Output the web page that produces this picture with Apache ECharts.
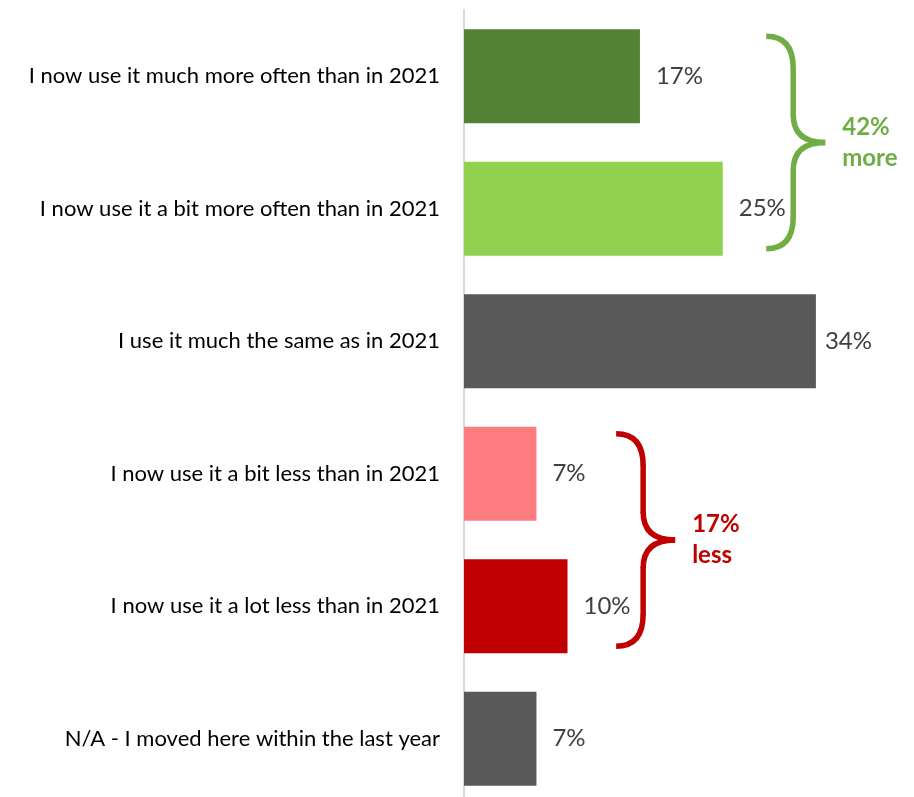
<!DOCTYPE html>
<html>
<head>
<meta charset="utf-8">
<script src="https://cdn.jsdelivr.net/npm/echarts@6/dist/echarts.min.js"></script>
<style>
  html, body { margin: 0; padding: 0; background: #fff; overflow: hidden; }
  #chart { width: 914px; height: 815px; }
</style>
</head>
<body>
<div id="chart"></div>
<script>
// Survey answers, top to bottom
const categories = [
  'I now use it much more often than in 2021',
  'I now use it a bit more often than in 2021',
  'I use it much the same as in 2021',
  'I now use it a bit less than in 2021',
  'I now use it a lot less than in 2021',
  'N/A - I moved here within the last year'
];
const shares = [17, 25, 34, 7, 10, 7];
const barColors = ['#548235', '#92d050', '#595959', '#ff7c80', '#c00000', '#595959'];

// Grouped totals shown beside the braces
const moreLabel = ['42%', 'more'];
const lessLabel = ['17%', 'less'];

const FONT = 'Lato, "Open Sans", sans-serif';

const chart = echarts.init(document.getElementById('chart'), null, { renderer: 'canvas' });

// The longest bar keeps its label tucked in closer
const labelGap = (i) => (i === 2 ? 9 : 16);

// The plot runs slightly past the bottom edge of the window, so the last
// band's lower margin is cut off.
const option = {
  animation: false,
  backgroundColor: '#ffffff',
  grid: { left: 464, top: 10, right: 36, bottom: 10, containLabel: false },
  xAxis: {
    type: 'value', min: 0, max: 40,
    show: false
  },
  yAxis: {
    type: 'category',
    data: categories,
    inverse: true,
    axisLine: { show: true, lineStyle: { color: '#d9d9d9', width: 2 } },
    axisTick: { show: false },
    axisLabel: {
      margin: 24, fontSize: 22, color: '#000000', fontFamily: FONT
    }
  },
  series: [{
    type: 'bar',
    data: shares.map((v, i) => ({
      value: v,
      itemStyle: { color: barColors[i] },
      label: { distance: labelGap(i) }
    })),
    barCategoryGap: '29%',
    label: {
      show: true, position: 'right',
      formatter: '{c}%', fontSize: 24, color: '#404040', fontFamily: FONT
    }
  }]
};
chart.setOption(option);

// Curly brace spanning two categories, placed through the axis scales
function brace(catA, catB, xValue, color, lines) {
  const half = 47; // half a bar's thickness in px
  const pA = chart.convertToPixel({ gridIndex: 0 }, [xValue, catA]);
  const pB = chart.convertToPixel({ gridIndex: 0 }, [xValue, catB]);
  const x0 = pA[0];
  const yTop = pA[1] - half + 7;
  const yBot = pB[1] + half - 7;
  const yMid = (yTop + yBot) / 2;
  const xv = x0 + 27, xt = x0 + 59;
  const style = { fill: null, stroke: color, lineWidth: 5.5, lineCap: 'butt' };
  const curve = (x1, y1, cx, cy, x2, y2) => ({
    type: 'bezierCurve',
    shape: { x1, y1, cpx1: cx, cpy1: cy, x2, y2 },
    style
  });
  const seg = (x1, y1, x2, y2) => ({
    type: 'line', shape: { x1, y1, x2, y2 }, style
  });
  return [
    curve(x0, yTop, xv, yTop, xv, yTop + 32),
    seg(xv, yTop + 31, xv, yMid - 27),
    curve(xv, yMid - 28, xv, yMid, xt, yMid),
    curve(xt, yMid, xv, yMid, xv, yMid + 28),
    seg(xv, yMid + 27, xv, yBot - 31),
    curve(xv, yBot - 32, xv, yBot, x0, yBot),
    {
      type: 'text',
      x: xt + 17, y: yMid,
      style: {
        text: lines.join('\n'), fill: color, font: `bold 24px ${FONT}`,
        lineHeight: 31, verticalAlign: 'middle', align: 'left'
      }
    }
  ];
}

chart.setOption({
  graphic: [
    ...brace(categories[0], categories[1], 29.2, '#70ad47', moreLabel),
    ...brace(categories[3], categories[4], 14.7, '#c00000', lessLabel)
  ]
});
</script>
</body>
</html>
